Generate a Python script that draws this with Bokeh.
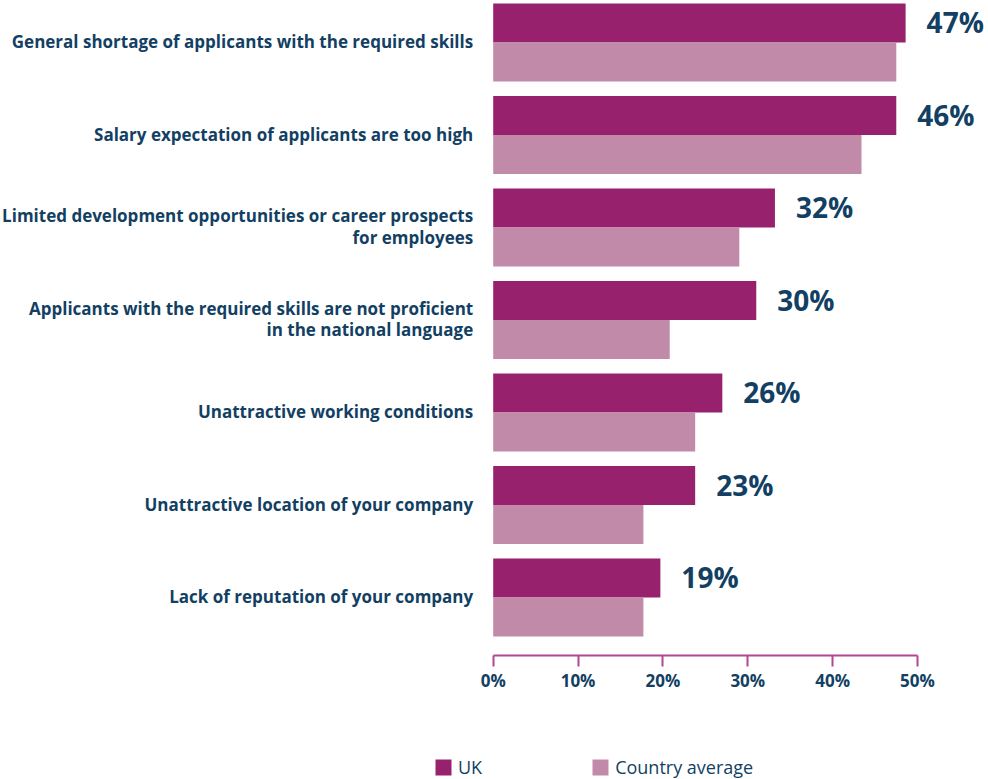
import numpy as np
from bokeh.plotting import figure
from bokeh.layouts import column
from bokeh.models import (Range1d, FixedTicker, PrintfTickFormatter, Legend, LegendItem,
                          ColumnDataSource)
from bokeh.core.properties import value
from bokeh.embed import file_html
from bokeh.resources import INLINE

# ---- data (top to bottom) ----
categories = [
    "General shortage of applicants with the required skills",
    "Salary expectation of applicants are too high",
    "Limited development opportunities or career prospects\nfor employees",
    "Applicants with the required skills are not proficient\nin the national language",
    "Unattractive working conditions",
    "Unattractive location of your company",
    "Lack of reputation of your company",
]
uk_values = [48.6, 47.5, 33.2, 31.0, 27.0, 23.8, 19.7]
country_avg_values = [47.5, 43.4, 29.0, 20.8, 23.8, 17.7, 17.7]
uk_labels = ["47%", "46%", "32%", "30%", "26%", "23%", "19%"]
x_ticks = [0, 10, 20, 30, 40, 50]
series_names = ["UK", "Country average"]

UK_COLOR = "#97216d"
CA_COLOR = "#c28aa9"
TEXT_COLOR = "#123f63"
AXIS_COLOR = "#b0478f"
FONT = "Open Sans"

W, H = 988, 779
LEG_H = 39
MAIN_H = H - LEG_H
PX_PER_UNIT_X = 8.486
ZERO_X = 492.7
FRAME_H = 655
TOP_PAD = 3
PITCH = 92.5
BAR_PX = 39

n = len(categories)
centers = -np.arange(n, dtype=float)
bh = BAR_PX / PITCH
y_end = bh + TOP_PAD / PITCH
y_start = y_end - FRAME_H / PITCH

p = figure(width=W, height=MAIN_H, output_backend="svg", toolbar_location=None,
           x_range=Range1d(-ZERO_X / PX_PER_UNIT_X, (W - ZERO_X) / PX_PER_UNIT_X),
           y_range=Range1d(y_start, y_end),
           min_border_left=0, min_border_right=0, min_border_top=0,
           min_border_bottom=MAIN_H - FRAME_H, y_axis_location=None)
p.outline_line_color = None
p.grid.visible = False
p.background_fill_color = "white"
p.border_fill_color = "white"

src = ColumnDataSource(dict(
    y_uk=centers + bh / 2, y_ca=centers - bh / 2, yc=centers,
    uk=uk_values, ca=country_avg_values, lab=uk_labels, cat=categories,
))

p.hbar(y="y_uk", right="uk", left=0, height=bh, source=src,
       fill_color=UK_COLOR, line_color=None)
p.hbar(y="y_ca", right="ca", left=0, height=bh, source=src,
       fill_color=CA_COLOR, line_color=None)

p.text(x="uk", y="y_uk", text="lab", source=src, x_offset=21, y_offset=-1,
       text_align="left", text_baseline="middle",
       text_font=value(FONT), text_font_style="bold", text_font_size="28px",
       text_color=TEXT_COLOR)

p.text(x=0, y="yc", text="cat", source=src, x_offset=-20, y_offset=-1,
       text_align="right", text_baseline="middle",
       text_font=value(FONT), text_font_style="bold", text_font_size="17px",
       text_line_height=0.93, text_color=TEXT_COLOR)

ax = p.xaxis[0]
ax.ticker = FixedTicker(ticks=x_ticks)
ax.formatter = PrintfTickFormatter(format="%d%%")
ax.bounds = (0, 50)
ax.minor_tick_line_color = None
ax.axis_line_color = AXIS_COLOR
ax.axis_line_width = 2
ax.major_tick_line_color = AXIS_COLOR
ax.major_tick_line_width = 2
ax.major_tick_in = 0
ax.major_tick_out = 11
ax.major_label_standoff = 2
ax.major_label_text_font = FONT
ax.major_label_text_font_style = "bold"
ax.major_label_text_font_size = "17px"
ax.major_label_text_color = TEXT_COLOR

# ---- legend strip (swatches only; zero-size bars so nothing is drawn in the strip) ----
pl = figure(width=W, height=LEG_H, output_backend="svg", toolbar_location=None,
            x_range=Range1d(0, 1), y_range=Range1d(0, 1),
            min_border_left=0, min_border_right=0, min_border_top=0,
            min_border_bottom=0, x_axis_location=None, y_axis_location=None)
pl.outline_line_color = None
pl.grid.visible = False
lr_uk = pl.hbar(y=[0.5], right=[0], left=[0], height=0, fill_color=UK_COLOR, line_color=None)
lr_ca = pl.hbar(y=[0.5], right=[0], left=[0], height=0, fill_color=CA_COLOR, line_color=None)
legend = Legend(items=[LegendItem(label=series_names[0], renderers=[lr_uk]),
                       LegendItem(label=series_names[1], renderers=[lr_ca])],
                location=(433, 0), orientation="horizontal",
                glyph_width=20, glyph_height=20, label_standoff=5, spacing=108,
                padding=0, margin=0, border_line_color=None,
                background_fill_alpha=0,
                label_text_font=FONT, label_text_font_size="18px",
                label_text_color=TEXT_COLOR)
pl.add_layout(legend, "center")

layout = column(p, pl, spacing=0)
open("out.html", "w").write(file_html(layout, INLINE))
